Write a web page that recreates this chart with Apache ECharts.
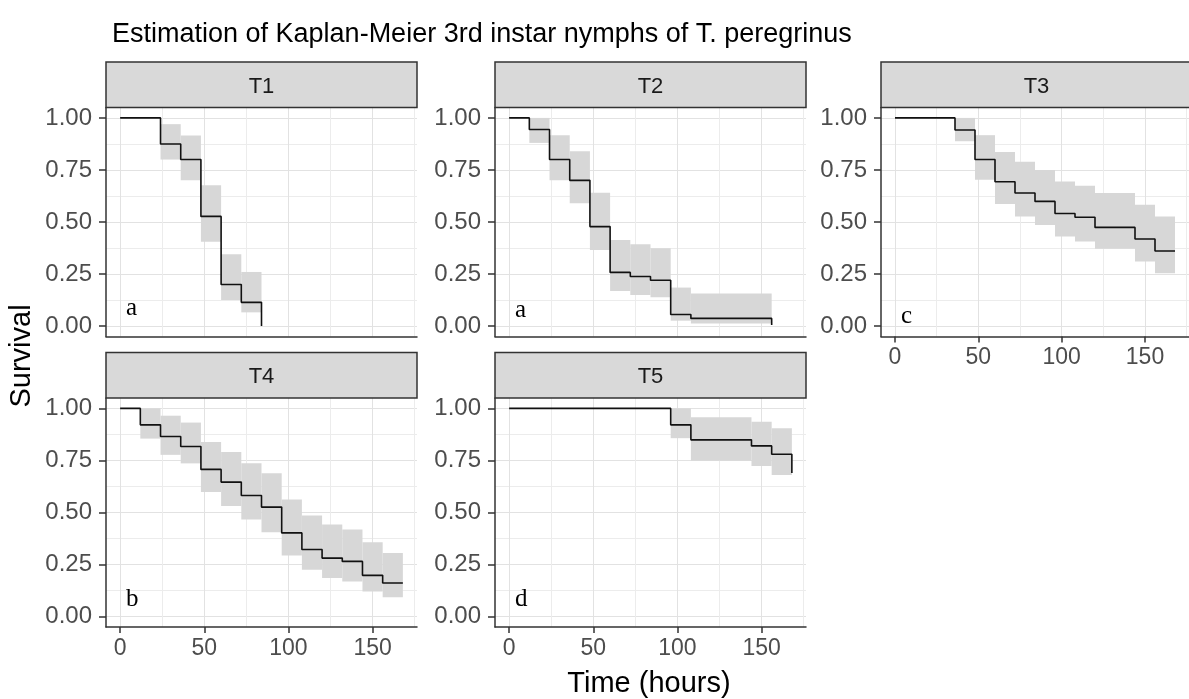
<!DOCTYPE html>
<html><head><meta charset="utf-8">
<script src="https://cdn.jsdelivr.net/npm/echarts@6/dist/echarts.min.js"></script>
<style>html,body{margin:0;padding:0;background:#fff}#c{width:1189px;height:699px}</style>
</head><body><div id="c"></div>
<script>
// ---------- DATA ----------
const panelNames = ['T1', 'T2', 'T3', 'T4', 'T5'];
const panelLetters = ['a', 'a', 'c', 'b', 'd'];
const xMajorTicks = [0, 50, 100, 150];
const xMinorTicks = [25, 75, 125, 175];
const yMajorTicks = [0, 0.25, 0.5, 0.75, 1];
const yMinorTicks = [0.125, 0.375, 0.625, 0.875];

// time (hours), survival estimate, lower / upper CI held on [time[i], time[i+1]]
const t1Time  = [0, 24, 36, 48, 60, 72, 84];
const t1Surv  = [1, 0.875, 0.80, 0.527, 0.20, 0.114, 0];
const t1Lower = [1, 0.80, 0.70, 0.405, 0.125, 0.066, 0];
const t1Upper = [1, 0.97, 0.915, 0.677, 0.345, 0.26, 0];

const t2Time  = [0, 12, 24, 36, 48, 60, 72, 84, 96, 108, 156];
const t2Surv  = [1, 0.944, 0.80, 0.70, 0.478, 0.258, 0.238, 0.22, 0.056, 0.037, 0.005];
const t2Lower = [1, 0.88, 0.70, 0.59, 0.366, 0.168, 0.149, 0.138, 0.026, 0.013, 0.005];
const t2Upper = [1, 1.0, 0.917, 0.84, 0.64, 0.414, 0.393, 0.374, 0.185, 0.157, 0.005];

const t3Time  = [0, 36, 48, 60, 72, 84, 96, 108, 120, 144, 156, 168];
const t3Surv  = [1, 0.942, 0.80, 0.693, 0.639, 0.599, 0.541, 0.523, 0.474, 0.418, 0.361, 0.361];
const t3Lower = [1, 0.888, 0.703, 0.587, 0.526, 0.486, 0.43, 0.406, 0.371, 0.31, 0.254, 0.361];
const t3Upper = [1, 1.0, 0.917, 0.836, 0.79, 0.75, 0.695, 0.674, 0.639, 0.583, 0.526, 0.361];

const t4Time  = [0, 12, 24, 36, 48, 60, 72, 84, 96, 108, 120, 132, 144, 156, 168];
const t4Surv  = [1, 0.921, 0.865, 0.817, 0.707, 0.646, 0.582, 0.526, 0.402, 0.322, 0.281, 0.265, 0.198, 0.161, 0.161];
const t4Lower = [1, 0.855, 0.777, 0.736, 0.598, 0.531, 0.466, 0.405, 0.293, 0.225, 0.185, 0.169, 0.121, 0.093, 0.161];
const t4Upper = [1, 1.0, 0.965, 0.932, 0.839, 0.791, 0.736, 0.688, 0.563, 0.486, 0.442, 0.418, 0.357, 0.305, 0.161];

const t5Time  = [0, 96, 108, 144, 156, 168];
const t5Surv  = [1, 0.921, 0.849, 0.82, 0.78, 0.69];
const t5Lower = [1, 0.857, 0.748, 0.723, 0.68, 0.69];
const t5Upper = [1, 1.0, 0.957, 0.936, 0.905, 0.69];

const panelData = [
  [t1Time, t1Surv, t1Lower, t1Upper],
  [t2Time, t2Surv, t2Lower, t2Upper],
  [t3Time, t3Surv, t3Lower, t3Upper],
  [t4Time, t4Surv, t4Lower, t4Upper],
  [t5Time, t5Surv, t5Lower, t5Upper]
];

// ---------- LAYOUT ----------
const FONT = '"Liberation Sans", Arial, Helvetica, sans-serif';
const SERIF = '"Liberation Serif", "Times New Roman", serif';
const PW = 311, PH = 229, STRIP_H = 45.5;
const layout = [
  { left: 106, top: 107.5, showX: false, letterY: 308 },
  { left: 495, top: 107.5, showX: false, letterY: 310 },
  { left: 881, top: 107.5, showX: true,  letterY: 316 },
  { left: 106, top: 398,   showX: true,  letterY: 599 },
  { left: 495, top: 398,   showX: true,  letterY: 599 }
];
const XMIN = -8.4, XMAX = 176.4, YMIN = -0.05, YMAX = 1.05;

const grids = [], xAxes = [], yAxes = [], series = [], graphics = [];

layout.forEach((L, i) => {
  grids.push({ left: L.left, top: L.top, width: PW, height: PH, containLabel: false });
  xAxes.push({
    gridIndex: i, type: 'value', min: XMIN, max: XMAX, position: 'bottom',
    axisLine: { show: true, onZero: false, lineStyle: { color: '#333', width: 1.5 } },
    axisTick: { show: L.showX, length: 6, customValues: xMajorTicks, lineStyle: { color: '#333', width: 1.5 } },
    axisLabel: { show: L.showX, customValues: xMajorTicks, color: '#4d4d4d', fontSize: 23, fontFamily: FONT, margin: 10,
                 formatter: v => String(v) },
    splitLine: { show: true, lineStyle: { color: '#e2e2e2', width: 1 } }
  });
  xAxes.push({
    gridIndex: i, type: 'value', min: XMIN, max: XMAX, position: 'bottom',
    axisLine: { show: false }, axisTick: { show: false, customValues: xMinorTicks },
    axisLabel: { show: false }, splitLine: { show: true, lineStyle: { color: '#ececec', width: 1 } }
  });
  yAxes.push({
    gridIndex: i, type: 'value', min: YMIN, max: YMAX, position: 'left',
    axisLine: { show: true, onZero: false, lineStyle: { color: '#333', width: 1.5 } },
    axisTick: { show: true, length: 7, customValues: yMajorTicks, lineStyle: { color: '#333', width: 1.5 } },
    axisLabel: { customValues: yMajorTicks, color: '#4d4d4d', fontSize: 24, fontFamily: FONT, margin: 14,
                 formatter: v => v.toFixed(2) },
    splitLine: { show: true, lineStyle: { color: '#e2e2e2', width: 1 } }
  });
  yAxes.push({
    gridIndex: i, type: 'value', min: YMIN, max: YMAX, position: 'left',
    axisLine: { show: false, onZero: false }, axisTick: { show: false, customValues: yMinorTicks },
    axisLabel: { show: false }, splitLine: { show: true, lineStyle: { color: '#ececec', width: 1 } }
  });

  const [tt, ss, lo, hi] = panelData[i];
  const bands = [];
  for (let k = 0; k < tt.length - 1; k++) {
    if (hi[k] > lo[k]) bands.push([tt[k], tt[k + 1], lo[k], hi[k]]);
  }
  series.push({
    type: 'custom', xAxisIndex: 2 * i, yAxisIndex: 2 * i, silent: true, z: 2,
    encode: { x: [0, 1], y: [2, 3] },
    data: bands,
    renderItem: (params, api) => {
      const p0 = api.coord([api.value(0), api.value(3)]);
      const p1 = api.coord([api.value(1), api.value(2)]);
      return { type: 'rect', shape: { x: p0[0], y: p0[1], width: p1[0] - p0[0], height: p1[1] - p0[1] },
               style: { fill: '#d7d7d7' } };
    }
  });
  series.push({
    type: 'line', xAxisIndex: 2 * i, yAxisIndex: 2 * i, step: 'end', symbol: 'none', silent: true, z: 3,
    data: tt.map((t, k) => [t, ss[k]]),
    lineStyle: { color: '#111', width: 1.6 }
  });

  graphics.push({
    type: 'rect', shape: { x: L.left, y: L.top - STRIP_H, width: PW, height: STRIP_H },
    style: { fill: '#d9d9d9', stroke: '#333', lineWidth: 1.5 }, z: 10
  });
  graphics.push({
    type: 'text', z: 11,
    style: { text: panelNames[i], x: L.left + PW / 2, y: L.top - STRIP_H / 2 + 2, align: 'center', verticalAlign: 'middle',
             fontSize: 22, fontFamily: FONT, fill: '#1a1a1a' }
  });
  graphics.push({
    type: 'text', z: 11,
    style: { text: panelLetters[i], x: L.left + 20, y: L.letterY, align: 'left', verticalAlign: 'middle',
             fontSize: 25, fontFamily: SERIF, fill: '#000' }
  });
});

graphics.push({
  type: 'text', z: 11,
  style: { text: 'Time (hours)', x: 649, y: 684, align: 'center', verticalAlign: 'middle',
           fontSize: 29, fontFamily: FONT, fill: '#000' }
});
graphics.push({
  type: 'text', z: 11, rotation: Math.PI / 2, x: 22, y: 356,
  style: { text: 'Survival', x: 0, y: 0, align: 'center', verticalAlign: 'middle',
           fontSize: 29, fontFamily: FONT, fill: '#000' }
});

const chart = echarts.init(document.getElementById('c'), null, { renderer: 'canvas' });
chart.setOption({
  animation: false,
  backgroundColor: '#fff',
  title: { text: 'Estimation of Kaplan-Meier 3rd instar nymphs of T. peregrinus', left: 107, top: 16,
           textStyle: { fontSize: 27, fontWeight: 'normal', color: '#000', fontFamily: FONT } },
  grid: grids, xAxis: xAxes, yAxis: yAxes, series: series, graphic: graphics
});
</script></body></html>
